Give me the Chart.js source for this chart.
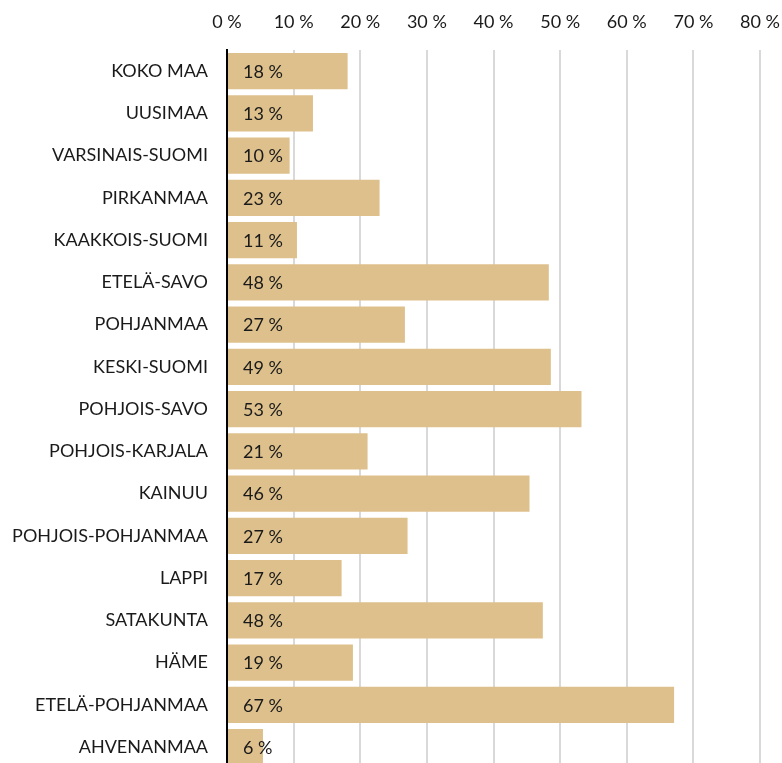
<!DOCTYPE html>
<html>
<head>
<meta charset="utf-8">
<script src="https://cdn.jsdelivr.net/npm/chart.js@4/dist/chart.umd.min.js"></script>
<style>
  html, body { margin: 0; padding: 0; background: #fff; overflow: hidden; }
</style>
</head>
<body>
<canvas id="grafico" width="797" height="798"></canvas>
<script>
// Datos
const alueet = ['KOKO MAA', 'UUSIMAA', 'VARSINAIS-SUOMI', 'PIRKANMAA', 'KAAKKOIS-SUOMI',
    'ETELÄ-SAVO', 'POHJANMAA', 'KESKI-SUOMI', 'POHJOIS-SAVO', 'POHJOIS-KARJALA', 'KAINUU',
    'POHJOIS-POHJANMAA', 'LAPPI', 'SATAKUNTA', 'HÄME', 'ETELÄ-POHJANMAA', 'AHVENANMAA'];
const osuudet = [18.1, 12.9, 9.4, 22.9, 10.5, 48.3, 26.7, 48.6, 53.2, 21.1, 45.4, 27.1, 17.2, 47.4, 18.9, 67.1, 5.4];
const merkinnat = ['18 %', '13 %', '10 %', '23 %', '11 %', '48 %', '27 %', '49 %', '53 %', '21 %',
    '46 %', '27 %', '17 %', '48 %', '19 %', '67 %', '6 %'];
const ejeMax = 80;
const paso = 10;

const FUENTE = 'Lato, "Open Sans", sans-serif';

// Etiquetas dentro de la barra, al inicio
const etiquetasBarra = {
    id: 'etiquetasBarra',
    afterDatasetsDraw(chart) {
        const ctx = chart.ctx;
        const meta = chart.getDatasetMeta(0);
        const x0 = chart.scales.x.getPixelForValue(0);
        ctx.save();
        ctx.font = '18px ' + FUENTE;
        ctx.fillStyle = '#1a1a1a';
        ctx.textAlign = 'left';
        ctx.textBaseline = 'middle';
        meta.data.forEach((bar, i) => {
            ctx.fillText(merkinnat[i], x0 + 16, bar.y + 1);
        });
        ctx.restore();
    }
};

new Chart(document.getElementById('grafico'), {
    type: 'bar',
    data: {
        labels: alueet,
        datasets: [{
            data: osuudet,
            backgroundColor: '#ddc08c',
            barPercentage: 0.86,
            categoryPercentage: 1
        }]
    },
    options: {
        indexAxis: 'y',
        responsive: false,
        animation: false,
        layout: { padding: { left: 0, right: 7, top: 0, bottom: 0 } },
        plugins: { legend: { display: false }, tooltip: { enabled: false } },
        scales: {
            x: {
                position: 'top',
                min: 0,
                max: ejeMax,
                ticks: {
                    stepSize: paso,
                    color: '#1a1a1a',
                    font: { family: FUENTE, size: 18 },
                    padding: 17,
                    callback: v => v + ' %'
                },
                grid: { color: '#d9d9d9', lineWidth: 2, drawTicks: false },
                border: { display: false },
                afterFit: s => { s.height = 50; }
            },
            y: {
                ticks: {
                    color: '#1a1a1a',
                    font: { family: FUENTE, size: 18 },
                    padding: 19
                },
                grid: { display: false, drawTicks: false },
                border: { color: '#000', width: 2 },
                afterFit: s => { s.width = 227; }
            }
        }
    },
    plugins: [etiquetasBarra]
});
</script>
</body>
</html>
